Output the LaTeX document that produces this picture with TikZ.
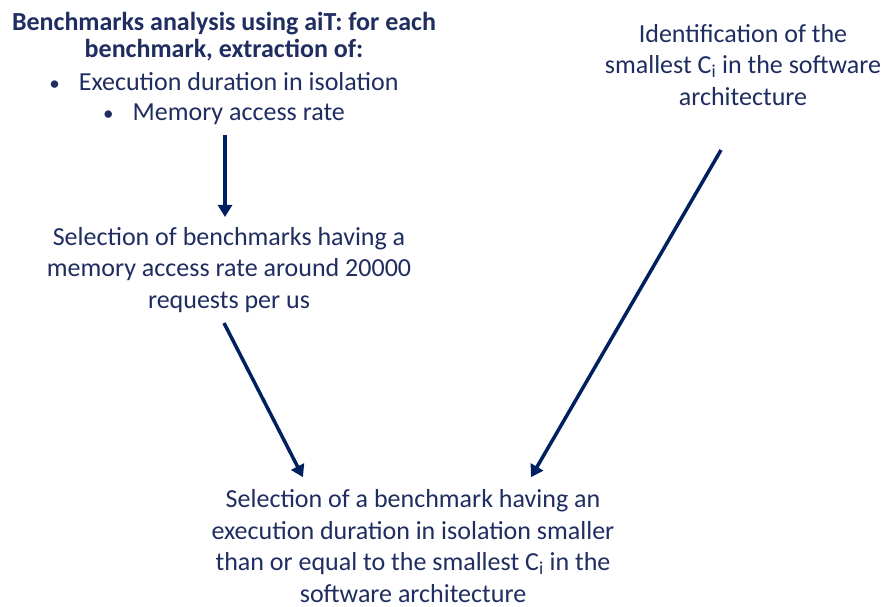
\documentclass[tikz,border=0pt]{standalone}
\usepackage{fontspec}
\setmainfont{Carlito}
\usetikzlibrary{arrows.meta,positioning}
\definecolor{navytext}{RGB}{31,45,96}
\definecolor{navyarrow}{RGB}{0,32,96}
\newcommand{\smallbul}{{\fontsize{21}{21}\selectfont\textbullet}\hspace{19pt}}

\begin{document}
\begin{tikzpicture}[x=1pt, y=-1pt, thick]

	\tikzstyle{blk}=[text=navytext, align=center, inner sep=0pt, font=\fontsize{26}{31.5}\selectfont]
	\tikzstyle{arr}=[-{Triangle[length=12pt,width=14pt]}, line width=3.5pt, draw=navyarrow]
	\useasboundingbox[fill=white] (0,0) rectangle (884,607);

	\node[blk, font=\fontsize{26}{27}\selectfont] (bench) at (224,68) {\textbf{Benchmarks analysis using aiT: for each}\\
		\textbf{benchmark, extraction of:}\\[6pt]
		\smallbul Execution duration in isolation\\[3pt]
		\smallbul Memory access rate};
	\node[blk] (select) at (229,270) {Selection of benchmarks having a\\
		memory access rate around 20000\\
		requests per us};
	\node[blk] (ident) at (743,65) {Identification of the\\
		smallest C\textsubscript{i} in the software\\
		architecture};
	\node[blk] (final) at (413,546) {Selection of a benchmark having an\\
		execution duration in isolation smaller\\
		than or equal to the smallest C\textsubscript{i} in the\\
		software architecture};

	\draw[arr] ([xshift=1pt, yshift=-10pt]bench.south) -- ([xshift=-4pt, yshift=10pt]select.north);
	\draw[arr] ([xshift=-5pt, yshift=-10pt]select.south) -- ([xshift=-110pt, yshift=12pt]final.north);
	\draw[arr] ([xshift=-22pt, yshift=-44pt]ident.south) -- ([xshift=118pt, yshift=12pt]final.north);

\end{tikzpicture}
\end{document}
